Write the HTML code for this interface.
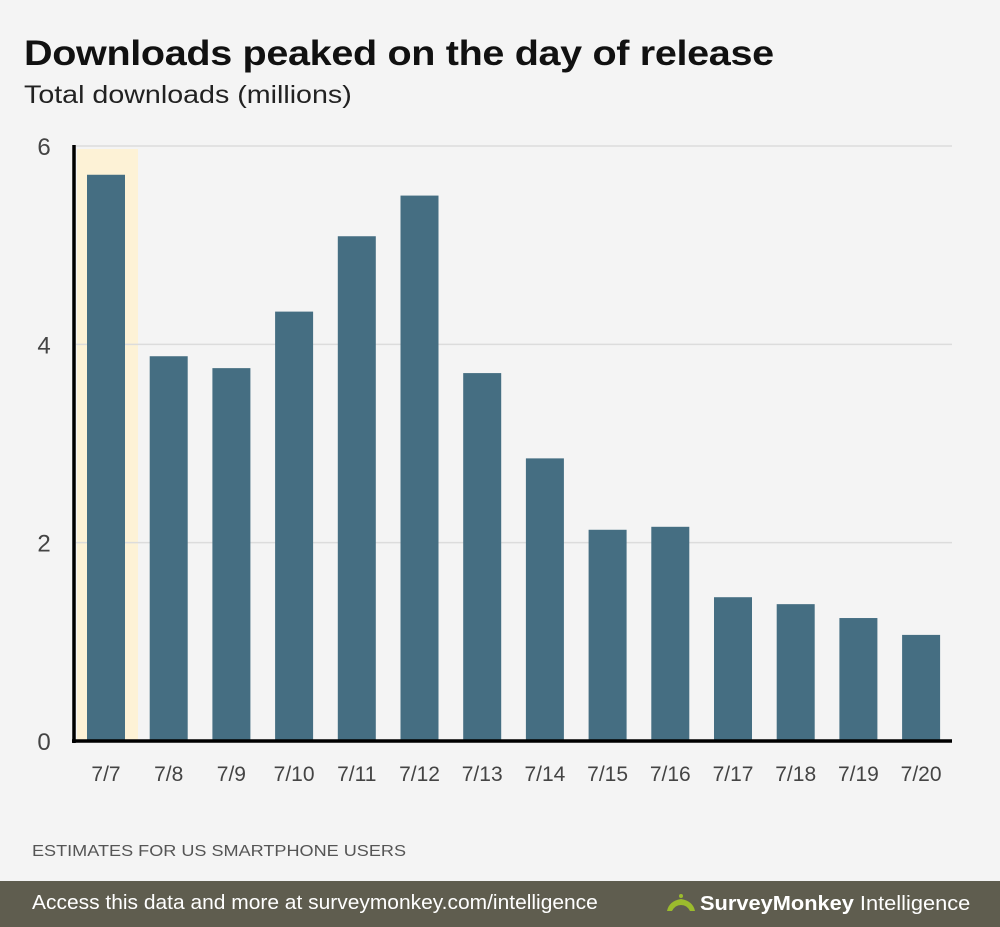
<!DOCTYPE html>
<html><head><meta charset="utf-8"><style>
body{margin:0;width:1000px;height:927px;background:#f4f4f4;font-family:"Liberation Sans",Arial,sans-serif;position:relative;overflow:hidden}
.t{position:absolute;left:24px;top:34px;font-size:35px;font-weight:bold;color:#111;letter-spacing:-0.3px;transform:scaleX(1.13);transform-origin:0 0;white-space:nowrap}
.s{position:absolute;left:24px;top:81px;font-size:25px;color:#222;transform:scaleX(1.145);transform-origin:0 0;white-space:nowrap}
.n{position:absolute;left:32px;top:843px;font-size:16px;color:#555;transform:scaleX(1.13);transform-origin:0 0;white-space:nowrap}
.f{position:absolute;left:0;top:881px;width:1000px;height:46px;background:#5f5d4f}
</style></head><body>
<div class="t">Downloads peaked on the day of release</div>
<div class="s">Total downloads (millions)</div>
<svg id="c" width="1000" height="800" style="position:absolute;left:0;top:0"></svg>
<div class="n">ESTIMATES FOR US SMARTPHONE USERS</div>
<div class="f">
<span style="position:absolute;left:32px;top:11px;font-size:20px;color:#fff;transform:scaleX(1.048);transform-origin:0 0;white-space:nowrap">Access this data and more at surveymonkey.com/intelligence</span>
<svg width="32" height="22" style="position:absolute;left:665px;top:12px"><path d="M2 18 Q4 8 16 6 Q28 8 30 18 L25 18 Q22 12 16 12 Q10 12 7 18Z" fill="#9bbb2d"/><circle cx="16" cy="3" r="2" fill="#9bbb2d"/></svg>
<span style="position:absolute;left:700px;top:12px;font-size:20px;color:#fff;font-weight:bold;transform:scaleX(1.09);transform-origin:0 0;white-space:nowrap">SurveyMonkey<span style="font-weight:normal"> Intelligence</span></span>
</div>
<script>
const categories=["7/7","7/8","7/9","7/10","7/11","7/12","7/13","7/14","7/15","7/16","7/17","7/18","7/19","7/20"];
const values=[5.71,3.88,3.76,4.33,5.09,5.50,3.71,2.85,2.13,2.16,1.45,1.38,1.24,1.07];
const yTicks=[0,2,4,6];
const highlightIndex=0;
const svg=document.getElementById('c');const NS='http://www.w3.org/2000/svg';
const y0=741,yTop=146,yMax=6,x0=106,step=62.7,bw=38;
const y=v=>y0-(v/yMax)*(y0-yTop);
const x=i=>x0+i*step;
function mk(t,a){const e=document.createElementNS(NS,t);for(const k in a)e.setAttribute(k,a[k]);svg.appendChild(e);return e;}
let h=mk('rect',{x:x(highlightIndex)-29,y:y(6)+3,width:61,height:y0-y(6)-3,fill:'#fdf2d6'});


yTicks.forEach(t=>{
 if(t>0){let g=mk('line',{x1:76,x2:952,y1:y(t),y2:y(t),stroke:'#dcdcdc','stroke-width':1.5});
 
 }
 let l=mk('text',{x:44,y:y(t)+9,'text-anchor':'middle','font-size':24,fill:'#444'});l.textContent=t;
 
 
});
values.forEach((v,i)=>{
 let r=mk('rect',{x:x(i)-bw/2,y:y(v),width:bw,height:y0-y(v),fill:'#456e82'});
 
 
 let l=mk('text',{x:x(i),y:781,'text-anchor':'middle','font-size':21,fill:'#444'});l.textContent=categories[i];
 
 
});
let ya=mk('line',{x1:74,x2:74,y1:145,y2:743,stroke:'#000','stroke-width':3.5});


let xa=mk('line',{x1:72,x2:952,y1:741,y2:741,stroke:'#000','stroke-width':3.5});


</script>
</body></html>
